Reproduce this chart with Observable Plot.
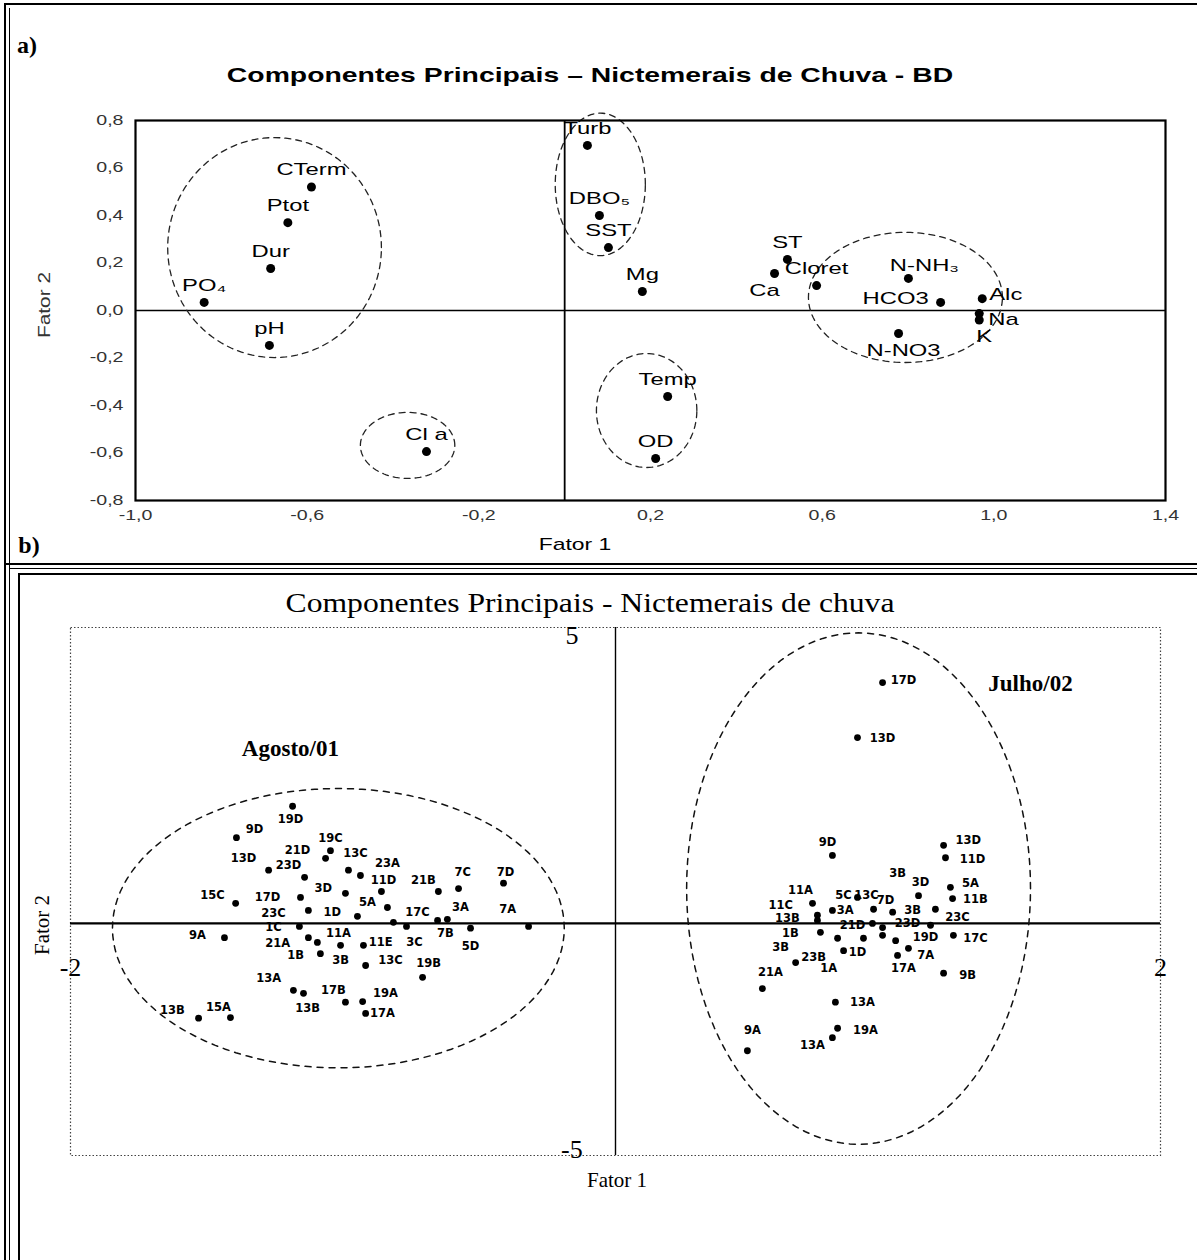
<!DOCTYPE html>
<html><head><meta charset="utf-8">
<script src="https://cdn.jsdelivr.net/npm/d3@7"></script>
<script src="https://cdn.jsdelivr.net/npm/@observablehq/plot@0.6"></script>
<style>
body{margin:0;background:#fff;}
#root{position:relative;width:1197px;height:1260px;overflow:hidden;background:#fff;}
.t{position:absolute;white-space:nowrap;transform-origin:center;line-height:1;color:#000;}
.pl{position:absolute;left:0;}
.ln{position:absolute;background:#000;}
</style></head><body><div id="root"></div>
<script>
// ---------- Panel a: variable loadings ----------
const varNames = ["CTerm","Ptot","Dur","PO\u2084","pH","Cl a","Turb","DBO\u2085","SST","Mg","Temp","OD","ST","Ca","Cloret","N-NH\u2083","HCO3","Alc","Na","K","N-NO3"];
const fator1A = [-0.59,-0.645,-0.685,-0.84,-0.688,-0.322,0.053,0.081,0.102,0.181,0.24,0.212,0.519,0.489,0.587,0.801,0.876,0.973,0.966,0.966,0.778];
const fator2A = [0.52,0.37,0.177,0.034,-0.147,-0.594,0.695,0.40,0.265,0.08,-0.362,-0.623,0.215,0.156,0.105,0.135,0.034,0.05,-0.013,-0.04,-0.097];
const labelSide = ["N","N","N","N","N","N","N","N","N","N","N","N","N","SW","N","NE","W","E","SE","S","S"];
const xTicksA = [-1.0,-0.6,-0.2,0.2,0.6,1.0,1.4];
const yTicksA = [-0.8,-0.6,-0.4,-0.2,0.0,0.2,0.4,0.6,0.8];
// grouping ellipses (centre and radii, in Fator units)
const groupCxA = [-0.676, 0.083, -0.366, 0.191, 0.794];
const groupCyA = [0.265, 0.531, -0.568, -0.421, 0.055];
const groupRxA = [0.249, 0.105, 0.110, 0.117, 0.226];
const groupRyA = [0.463, 0.300, 0.139, 0.240, 0.274];

// ---------- Panel b: sample scores ----------
const agostoF1 = [-1.185,-1.391,-1.273,-1.141,-1.046,-1.064,-0.980,-0.936,-0.859,-0.650,-0.576,-0.411,-0.991,-1.156,-1.394,-1.127,-0.947,-0.837,-0.815,-0.767,-0.653,-0.617,-0.532,-0.319,-1.160,-1.435,-1.127,-1.094,-0.925,-1.083,-0.917,-0.708,-1.182,-1.145,-0.991,-0.928,-0.917,-1.530,-1.413,-1.009];
const agostoF2 = [1.98,1.45,0.90,0.78,1.23,1.10,0.90,0.81,0.54,0.54,0.59,0.68,0.51,0.44,0.34,0.22,0.12,0.27,0.02,-0.05,0.05,0.07,-0.08,-0.05,-0.05,-0.24,-0.24,-0.32,-0.37,-0.51,-0.71,-0.91,-1.13,-1.18,-1.33,-1.32,-1.52,-1.60,-1.59,-0.37];
const agostoLabels = ["19D","9D","13D","23D","21D","19C","13C","23A","11D","21B","7C","7D","3D","17D","15C","23C","1D","5A","17C","3A","7A","7B","5D","1C","9A","21A","11A","11E","3C","1B","3B","13C","19B","13A","17B","13B","19A","17A","13B","15A"];
const agostoLabX = [-1.193,-1.325,-1.365,-1.200,-1.167,-1.046,-0.954,-0.837,-0.851,-0.705,-0.561,-0.404,-1.072,-1.277,-1.479,-1.255,-1.039,-0.910,-0.727,-0.569,-0.396,-0.624,-0.532,-1.255,-1.534,-1.240,-1.017,-0.862,-0.738,-1.174,-1.009,-0.826,-0.686,-1.273,-1.035,-1.130,-0.844,-0.855,-1.626,-1.457];
const agostoLabY = [1.76,1.59,1.10,0.98,1.23,1.44,1.18,1.01,0.73,0.73,0.86,0.86,0.59,0.44,0.47,0.17,0.19,0.35,0.19,0.27,0.24,-0.17,-0.39,-0.07,-0.20,-0.34,-0.17,-0.32,-0.32,-0.54,-0.63,-0.63,-0.68,-0.93,-1.13,-1.44,-1.18,-1.52,-1.47,-1.42];

const julhoF1 = [0.980,0.888,0.796,1.204,1.211,1.229,1.237,1.174,1.240,1.204,1.112,0.723,0.741,0.741,0.752,0.661,0.539,0.796,0.888,0.947,1.017,0.943,0.980,0.980,0.815,0.837,0.910,1.028,1.075,1.035,0.807,0.815,0.796,0.484,1.156];
const julhoF2 = [4.07,3.14,1.15,1.32,1.11,0.61,0.42,0.24,-0.20,-0.84,0.47,0.34,0.14,0.05,-0.15,-0.66,-1.10,0.22,0.44,0.24,0.19,0.00,-0.07,-0.20,-0.25,-0.46,-0.25,-0.29,-0.42,-0.54,-1.33,-1.77,-1.93,-2.15,-0.03];
const julhoLabels = ["17D","13D","9D","13D","11D","5A","11B","23C","17C","9B","3D","3B","5C","13C","7D","3B","11A","11C","3A","13B","21D","23D","1B","19D","3B","23B","1D","7A","17A","1A","21A","13A","19A","9A","13A"];
const julhoLabX = [1.057,0.980,0.778,1.295,1.310,1.303,1.321,1.255,1.321,1.292,1.119,1.035,0.837,0.921,0.991,1.090,0.679,0.606,0.843,0.631,0.870,1.072,0.642,1.138,0.606,0.727,0.888,1.138,1.057,0.782,0.569,0.906,0.917,0.503,0.723];
const julhoLabY = [4.10,3.13,1.37,1.40,1.08,0.68,0.41,0.10,-0.25,-0.88,0.69,0.84,0.47,0.47,0.39,0.22,0.56,0.30,0.22,0.08,-0.03,0.00,-0.17,-0.24,-0.41,-0.57,-0.49,-0.54,-0.76,-0.76,-0.83,-1.33,-1.81,-1.81,-2.06];

const groupNamesB = ["Agosto/01","Julho/02"];
const groupNameXB = [-1.193, 1.523];
const groupNameYB = [2.96, 4.05];
const groupCxB = [-1.017, 0.892];
const groupCyB = [-0.08, 0.59];
const groupRxB = [0.829, 0.631];
const groupRyB = [2.36, 4.32];
const xTickLabelsB = ["-2","2"];
const xTickValB = [-2, 2];
const yTickLabelsB = ["5","-5"];
const yTickValB = [5, -3.92];

// ---------- helpers ----------
const root = document.getElementById("root");
function ellipse(cx, cy, rx, ry, id) {
  return d3.range(0, 121).map(i => {
    const t = i / 120 * 2 * Math.PI;
    return {id, x: cx + rx * Math.cos(t), y: cy + ry * Math.sin(t)};
  });
}
function txt(s, x, y, style, sx = 1, rot = 0) {
  const d = document.createElement("div");
  d.className = "t";
  d.textContent = s;
  d.style.left = x + "px";
  d.style.top = y + "px";
  Object.assign(d.style, style);
  d.style.transform = `translate(-50%,-50%) rotate(${rot}deg) scale(${sx},1)`;
  root.appendChild(d);
}
function stretch(svg, s, selector = "text") {
  svg.querySelectorAll(selector).forEach(t => {
    const tr = t.getAttribute("transform");
    if (tr && tr.startsWith("translate")) t.setAttribute("transform", tr + ` scale(${s},1)`);
  });
}
function line(x, y, w, h) {
  const d = document.createElement("div");
  d.className = "ln";
  Object.assign(d.style, {left: x + "px", top: y + "px", width: w + "px", height: h + "px"});
  root.appendChild(d);
}
const comma = d => d.toFixed(1).replace(".", ",");

// ---------- Panel a ----------
const varsA = varNames.map((n, i) => ({name: n, f1: fator1A[i], f2: fator2A[i], side: labelSide[i]}));
const ellA = groupCxA.flatMap((cx, i) => ellipse(cx, groupCyA[i], groupRxA[i], groupRyA[i], i));
const sides = {
  N: {dx: 0, dy: -17, textAnchor: "middle"},
  S: {dx: 5, dy: 17, textAnchor: "middle"},
  E: {dx: 7, dy: -4, textAnchor: "start"},
  SE: {dx: 9, dy: 6, textAnchor: "start"},
  W: {dx: -12, dy: -4, textAnchor: "end"},
  NE: {dx: 16, dy: -13, textAnchor: "middle"},
  SW: {dx: -10, dy: 17, textAnchor: "middle"}
};
const labelMarks = Object.entries(sides).map(([k, o]) =>
  Plot.text(varsA.filter(d => d.side === k), {x: "f1", y: "f2", text: "name", fontSize: 17, ...o}));

const plotA = Plot.plot({
  width: 1197, height: 567,
  marginLeft: 135, marginRight: 32, marginTop: 120, marginBottom: 67,
  style: {fontFamily: "'Liberation Sans', Arial, sans-serif", fontSize: "15px", background: "transparent", color: "#000"},
  x: {domain: [-1, 1.4]},
  y: {domain: [-0.8, 0.8]},
  marks: [
    Plot.ruleY([0], {stroke: "#000", strokeWidth: 1.6}),
    Plot.ruleX([0], {stroke: "#000", strokeWidth: 1.8}),
    Plot.line(ellA, {x: "x", y: "y", z: "id", stroke: "#222", strokeWidth: 1.3, strokeDasharray: "6,5"}),
    Plot.dot(varsA, {x: "f1", y: "f2", r: 4.5, fill: "#000"}),
    ...labelMarks,
    Plot.frame({stroke: "#000", strokeWidth: 2.2}),
    Plot.axisX({ticks: xTicksA, tickFormat: comma, tickSize: 0, tickPadding: 10, label: null, fontSize: 14, fill: "#333"}),
    Plot.axisY({ticks: yTicksA, tickFormat: comma, tickSize: 0, tickPadding: 12, label: null, fontSize: 14, fill: "#333"})
  ]
});
stretch(plotA, 1.4);
const wa = document.createElement("div"); wa.className = "pl"; wa.style.top = "0px"; wa.appendChild(plotA); root.appendChild(wa);

// ---------- Panel b ----------
const agosto = agostoF1.map((v, i) => ({f1: v, f2: agostoF2[i]}));
const julho = julhoF1.map((v, i) => ({f1: v, f2: julhoF2[i]}));
const labsB = [
  ...agostoLabels.map((t, i) => ({t, x: agostoLabX[i], y: agostoLabY[i]})),
  ...julhoLabels.map((t, i) => ({t, x: julhoLabX[i], y: julhoLabY[i]}))
];
const ellB = groupCxB.flatMap((cx, i) => ellipse(cx, groupCyB[i], groupRxB[i], groupRyB[i], i));
const groupsB = groupNamesB.map((t, i) => ({t, x: groupNameXB[i], y: groupNameYB[i]}));

const plotB = Plot.plot({
  width: 1197, height: 693,
  marginLeft: 70, marginRight: 37, marginTop: 60, marginBottom: 105,
  style: {fontFamily: "'Liberation Serif', 'Times New Roman', serif", background: "transparent", color: "#000"},
  x: {domain: [-2, 2], axis: null},
  y: {domain: [-3.92, 5], axis: null},
  marks: [
    Plot.frame({stroke: "#444", strokeWidth: 1.2, strokeDasharray: "1.5,2"}),
    Plot.ruleY([0], {stroke: "#000", strokeWidth: 2.2}),
    Plot.ruleX([0], {stroke: "#000", strokeWidth: 1.4}),
    Plot.line(ellB, {x: "x", y: "y", z: "id", stroke: "#111", strokeWidth: 1.5, strokeDasharray: "6,6"}),
    Plot.dot(agosto, {x: "f1", y: "f2", r: 3.4, fill: "#000"}),
    Plot.dot(julho, {x: "f1", y: "f2", r: 3.4, fill: "#000"}),
    Plot.text(labsB, {x: "x", y: "y", text: "t", fontSize: 11.5, fontWeight: "bold", fontFamily: "'DejaVu Sans', sans-serif", ariaLabel: "amostras"}),
    Plot.text(groupsB, {x: "x", y: "y", text: "t", fontSize: 23, fontWeight: "bold", ariaLabel: "grupos"}),
    Plot.text(xTickValB, {x: d => d, y: -0.75, text: (d, i) => xTickLabelsB[i], fontSize: 26}),
    Plot.text(yTickValB, {x: -0.16, y: d => d, text: (d, i) => yTickLabelsB[i], fontSize: 26, dy: 8})
  ]
});
stretch(plotB, 1.15, 'g[aria-label="amostras"] text');
stretch(plotB, 1.2, 'g[aria-label="grupos"] text');
// nudge the bottom "-5" label up so it sits above the frame
plotB.querySelectorAll("text").forEach(t => { if (t.textContent === "-5") t.setAttribute("dy", "-14"); });
const wb = document.createElement("div"); wb.className = "pl"; wb.style.top = "567px"; wb.appendChild(plotB); root.appendChild(wb);

// ---------- titles & labels ----------
txt("a)", 27, 45, {font: "bold 24px 'Liberation Serif', serif"});
txt("b)", 29, 545, {font: "bold 24px 'Liberation Serif', serif"});
txt("Componentes Principais \u2013 Nictemerais de Chuva - BD", 590, 75, {font: "bold 21px 'Liberation Sans', Arial, sans-serif"}, 1.35);
txt("Fator 2", 45, 305, {font: "16px 'Liberation Sans', Arial, sans-serif", color: "#333"}, 1.3, -90);
txt("Fator 1", 575, 545, {font: "17px 'Liberation Sans', Arial, sans-serif"}, 1.35);
txt("Componentes Principais - Nictemerais de chuva", 590, 603, {font: "28px 'Liberation Serif', 'Times New Roman', serif"}, 1.13);
txt("Fator 1", 617, 1180, {font: "21px 'Liberation Serif', 'Times New Roman', serif"});
txt("Fator 2", 42, 925, {font: "21px 'Liberation Serif', 'Times New Roman', serif"}, 1, -90);

// ---------- scan borders ----------
line(4, 3, 1193, 2);
line(4, 3, 2, 1257);
line(9, 8, 1, 1252);
line(4, 563, 1193, 2);
line(9, 568, 1188, 1);
line(18, 573, 1.5, 687);
line(18, 573, 1179, 1.5);
</script></body></html>
